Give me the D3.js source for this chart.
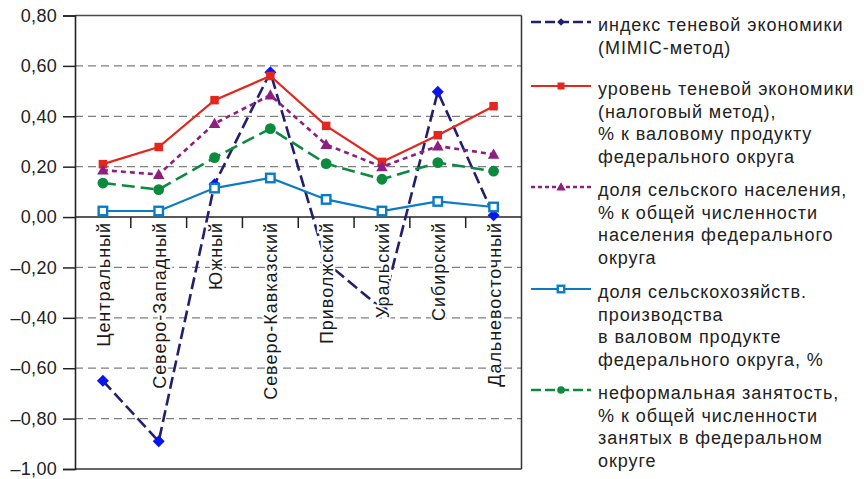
<!DOCTYPE html>
<html><head><meta charset="utf-8">
<script src="https://cdn.jsdelivr.net/npm/d3@7"></script>
<style>
html,body{margin:0;padding:0;background:#fff;}
svg{display:block;font-family:"Liberation Sans",Arial,sans-serif;}
</style></head>
<body>
<svg id="chart" width="864" height="479"></svg>
<script>
const categories = ["Центральный","Северо-Западный","Южный","Северо-Кавказский","Приволжский","Уральский","Сибирский","Дальневосточный"];
const mimicIndex   = [-0.650, -0.890, 0.130, 0.575, -0.180, -0.365, 0.497, 0.007];
const taxLevel     = [0.210, 0.278, 0.464, 0.560, 0.362, 0.219, 0.325, 0.440];
const ruralPop     = [0.186, 0.169, 0.371, 0.484, 0.288, 0.199, 0.282, 0.249];
const agriShare    = [0.024, 0.024, 0.115, 0.155, 0.070, 0.024, 0.062, 0.040];
const informalEmp  = [0.135, 0.109, 0.236, 0.351, 0.212, 0.150, 0.216, 0.182];
const yTicks = [0.8,0.6,0.4,0.2,0,-0.2,-0.4,-0.6,-0.8,-1.0];
const legendLabels = [
  ["индекс теневой экономики","(MIMIC-метод)"],
  ["уровень теневой экономики","(налоговый метод),","% к валовому продукту","федерального округа"],
  ["доля сельского населения,","% к общей численности","населения федерального","округа"],
  ["доля сельскохозяйств.","производства","в валовом продукте","федерального округа, %"],
  ["неформальная занятость,","% к общей численности","занятых в федеральном","округе"]
];

const series = [
  {values: mimicIndex, color:"#231f6e", width:2.6, dash:"12,5", ldash:"10,4", marker:"diamond", fill:"#0a14f0", lfill:"#231f6e", size:6, lsize:3.8},
  {values: taxLevel, color:"#e2271f", width:2.2, dash:null, ldash:null, marker:"square", fill:"#e2271f", lfill:"#e2271f", size:8.5, lsize:7},
  {values: ruralPop, color:"#8c1f80", width:2.6, dash:"5,4", ldash:"4,3", marker:"triangle", fill:"#8c1f80", lfill:"#8c1f80", size:10.5, lsize:8.5},
  {values: agriShare, color:"#0b7cc4", width:2.2, dash:null, ldash:null, marker:"hsquare", fill:"#ffffff", lfill:"#ffffff", size:8.5, lsize:6.5},
  {values: informalEmp, color:"#0c8a3e", width:2.6, dash:"13,6", ldash:"10,4", marker:"circle", fill:"#0c8a3e", lfill:"#0c8a3e", size:5.4, lsize:3.8}
];

const svg = d3.select("#chart");
const pLeft = 75, pRight = 521.5, pTop = 15.5, pBottom = 469;
const x = d3.scaleBand().domain(categories).range([pLeft, pRight]);
const y = d3.scaleLinear().domain([-1, 0.8]).range([pBottom, pTop]);
const fmt = v => (v < 0 ? "–" : "") + Math.abs(v).toFixed(2).replace(".", ",");

// gridlines
svg.append("g").selectAll("line").data(yTicks.filter(t => t !== 0 && t !== 0.8 && t !== -1))
  .join("line")
  .attr("x1", pLeft).attr("x2", pRight)
  .attr("y1", d => y(d)).attr("y2", d => y(d))
  .attr("stroke", "#7f7f7f").attr("stroke-width", 1.3).attr("stroke-dasharray", "8,5");

// frame
svg.append("line").attr("x1", pLeft).attr("x2", pRight).attr("y1", y(0.8)).attr("y2", y(0.8)).attr("stroke", "#4a4a4a").attr("stroke-width", 1.5);
svg.append("line").attr("x1", pLeft).attr("x2", pRight).attr("y1", y(-1)).attr("y2", y(-1)).attr("stroke", "#333").attr("stroke-width", 1.5);
svg.append("line").attr("x1", pRight).attr("x2", pRight).attr("y1", y(0.8)).attr("y2", y(-1)).attr("stroke", "#333").attr("stroke-width", 1.5);

// y axis
const yAxis = d3.axisLeft(y).tickValues(yTicks).tickFormat(fmt).tickSize(12).tickPadding(6);
const yg = svg.append("g").attr("transform", `translate(${pLeft},0)`).call(yAxis);
yg.select(".domain").attr("stroke", "#222").attr("stroke-width", 1.6);
yg.selectAll(".tick line").attr("stroke", "#222").attr("stroke-width", 1.5);
yg.selectAll(".tick text").attr("font-size", 18).attr("fill", "#222").attr("letter-spacing", 0.3).attr("font-family", "Liberation Sans, Arial, sans-serif");

// zero axis with category boundary ticks
svg.append("line").attr("x1", pLeft).attr("x2", pRight).attr("y1", y(0)).attr("y2", y(0)).attr("stroke", "#222").attr("stroke-width", 1.6);
svg.append("g").selectAll("line").data(categories.slice(1))
  .join("line")
  .attr("x1", d => x(d)).attr("x2", d => x(d))
  .attr("y1", y(0)).attr("y2", y(0) + 11)
  .attr("stroke", "#222").attr("stroke-width", 1.5);

const cx = c => x(c) + x.bandwidth() / 2;

function drawMarker(g, type, size, fill, stroke) {
  if (type === "diamond") {
    g.append("path").attr("d", `M0,${-size}L${size},0L0,${size}L${-size},0Z`).attr("fill", fill);
  } else if (type === "square") {
    g.append("rect").attr("x", -size/2).attr("y", -size/2).attr("width", size).attr("height", size).attr("fill", fill);
  } else if (type === "hsquare") {
    g.append("rect").attr("x", -size/2).attr("y", -size/2).attr("width", size).attr("height", size).attr("fill", fill).attr("stroke", stroke).attr("stroke-width", 2.4);
  } else if (type === "triangle") {
    const h = size;
    g.append("path").attr("d", `M0,${-h*0.55}L${h*0.55},${h*0.42}L${-h*0.55},${h*0.42}Z`).attr("fill", fill);
  } else if (type === "circle") {
    g.append("circle").attr("r", size).attr("fill", fill);
  }
}

const line = d3.line().x((d, i) => cx(categories[i])).y(d => y(d));
series.forEach(s => {
  const g = svg.append("g");
  g.append("path").datum(s.values).attr("d", line)
    .attr("fill", "none").attr("stroke", s.color).attr("stroke-width", s.width)
    .attr("stroke-dasharray", s.dash);
  s.values.forEach((v, i) => {
    const mg = g.append("g").attr("transform", `translate(${cx(categories[i])},${y(v)})`);
    drawMarker(mg, s.marker, s.size, s.fill, s.color);
  });
});

// category labels
svg.append("g").selectAll("text").data(categories).join("text")
  .attr("transform", d => `translate(${cx(d)+1},${y(0) + 5}) rotate(-90)`)
  .attr("text-anchor", "end").attr("dominant-baseline", "central")
  .attr("font-size", 18).attr("letter-spacing", 0.95).attr("fill", "#1a1a1a")
  .attr("stroke", "#fff").attr("stroke-width", 4).attr("paint-order", "stroke")
  .text(d => d);

// legend
const legendY = [22, 86, 187, 289, 390];
const lg = svg.append("g");
series.forEach((s, i) => {
  const yy = legendY[i];
  lg.append("line").attr("x1", 531).attr("x2", 591).attr("y1", yy).attr("y2", yy)
    .attr("stroke", s.color).attr("stroke-width", s.width).attr("stroke-dasharray", s.ldash);
  const mg = lg.append("g").attr("transform", `translate(561,${yy})`);
  drawMarker(mg, s.marker, s.lsize, s.lfill, s.color);
  const t = lg.append("text").attr("x", 598).attr("y", yy + 9).attr("font-size", 18).attr("letter-spacing", 0.95).attr("fill", "#222");
  legendLabels[i].forEach((txt, j) => {
    t.append("tspan").attr("x", 598).attr("dy", j === 0 ? 0 : 22.5).text(txt);
  });
});
</script>
</body></html>
